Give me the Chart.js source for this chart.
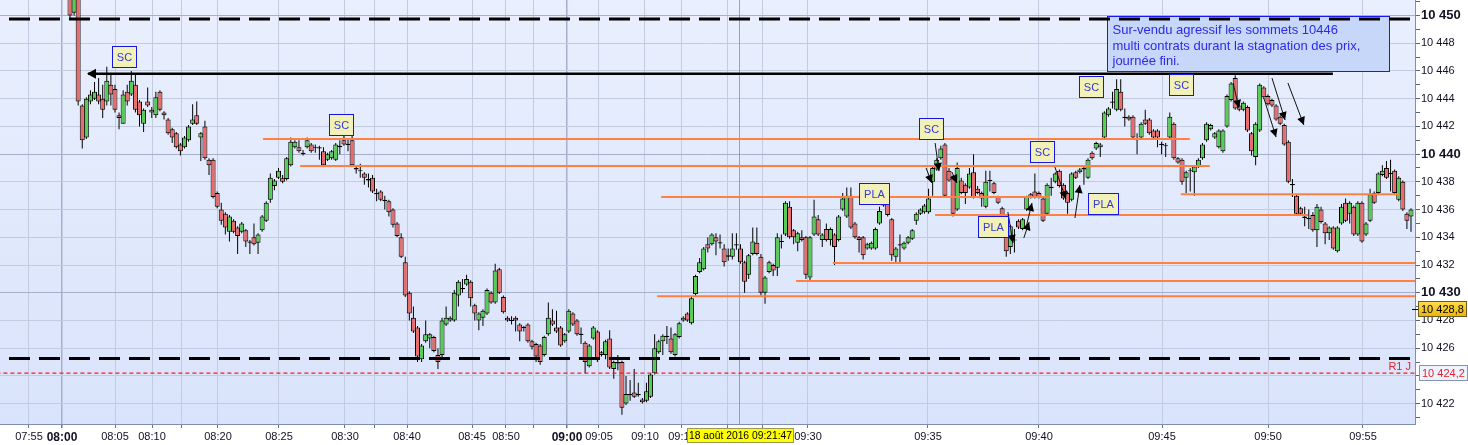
<!DOCTYPE html>
<html><head><meta charset="utf-8">
<style>html,body{margin:0;padding:0;background:#fff;}#wrap{width:1468px;height:445px;overflow:hidden;}</style>
<script src="https://cdn.jsdelivr.net/npm/chart.js@4"></script>
</head><body><div id="wrap"><canvas id="c" width="1468" height="445"></canvas></div>
<script>
// ---------- DATA ----------
const open = [
10452.5,10450.2,10451.8,10443.5,10441.2,10443.8,10444.0,10444.3,10444.0,10443.8,
10445.0,10444.7,10442.8,10442.2,10444.5,10444.3,10445.0,10443.8,10442.2,10443.8,
10443.2,10442.8,10444.5,10443.0,10442.5,10441.8,10441.5,10440.7,10440.5,10441.0,
10442.2,10442.8,10441.2,10442.0,10439.6,10439.6,10437.2,10436.0,10435.7,10434.4,
10435.2,10434.7,10434.4,10434.5,10433.6,10434.0,10433.6,10434.5,10435.2,
10436.7,10437.7,10438.3,10438.3,10438.2,10439.2,10440.5,10440.5,10440.1,10440.5,
10440.7,10440.5,10440.5,10440.2,10439.6,10439.7,10439.6,10440.5,10441.0,10440.7,
10441.0,10439.0,10438.8,10438.6,10438.2,10438.3,10437.2,10437.3,10436.7,10436.6,
10436.0,10435.0,10434.0,
10432.2,10430.0,10428.2,10427.5,10425.2,10426.5,10426.7,10426.8,10425.5,10425.5,
10427.7,10428.0,10428.0,10429.8,10430.3,10430.6,10430.8,10429.1,10428.0,10428.2,
10428.5,10430.0,10429.3,10431.7,10429.7,10428.2,10428.0,10428.2,10427.7,10427.5,
10427.7,10426.5,10426.3,10426.2,10425.5,10427.0,10428.0,10427.5,10427.5,10426.5,
10427.2,10428.5,10428.0,10427.0,10426.4,10424.7,10426.7,10427.2,10425.5,10425.5,
10426.7,10424.5,10425.0,10425.0,10422.0,10422.6,10422.8,10422.7,10422.3,10422.2,
10422.5,10424.2,10425.7,10426.5,10426.9,10426.7,10425.5,10426.8,10428.0,10428.5,
10427.8,10429.9,
10431.5,10431.7,10433.5,10433.5,10434.0,10433.6,10433.2,10432.6,10432.6,10433.4,
10433.2,10432.2,10431.3,10432.8,10433.6,10432.6,10430.0,10431.5,10432.0,10431.8,
10433.7,10434.2,10436.2,10434.5,10433.6,10434.0,10434.0,10431.1,10434.2,10435.3,
10433.8,10434.6,10433.8,10434.2,10433.8,10436.0,10435.5,10437.0,10435.0,10434.0,
10434.0,10433.2,10433.2,10433.2,10435.0,10436.5,10436.7,10435.3,10432.6,10433.4,
10433.2,10433.6,10433.9,10435.2,10435.7,10435.8,10435.8,
10438.0,10438.9,10439.7,10440.7,10438.8,10438.4,10436.0,10438.1,10437.8,10437.6,
10438.7,10437.5,10437.2,10436.2,10438.1,10437.9,10436.9,10436.1,10434.8,10433.3,
10433.8,10435.2,10434.6,10436.0,10437.1,10437.3,10437.2,10436.8,10435.7,10437.6,
10438.0,10438.8,10437.8,10437.2,10436.7,10438.7,10438.7,10438.9,10438.3,10440.1,
10440.4,10440.5,10441.2,10442.8,10443.8,10443.2,10444.5,10442.7,10442.7,10442.7,
10441.1,10441.2,10442.5,10442.5,10441.7,10441.7,10440.7,10440.6,10441.2,10442.2,
10439.7,10439.6,10438.3,10438.8,10438.7,10439.1,10439.7,10441.0,10441.8,10441.2,
10440.5,10440.2,10442.0,10443.9,10445.5,10443.5,10443.2,10443.4,10441.5,10439.8,
10441.7,10444.8,10444.2,10443.9,10443.5,10442.7,10442.1,10440.9,10437.8,10437.0,
10436.1,10435.5,
10435.4,10435.6,10434.5,10436.0,10435.0,10434.3,10434.7,10433.0,10435.0,10436.5,
10435.7,10436.2,10434.2,10436.5,10434.2,10435.2,10437.2,10437.2,10438.5,10439.0,
10438.6,10438.8,10436.7,10438.0,10435.7,10435.5
];
const high = [
10453.0,10452.5,10452.0,10443.6,10444.1,10444.6,10445.2,10445.5,10445.0,10446.3,
10445.8,10445.0,10443.0,10444.6,10445.0,10446.0,10445.8,10443.9,10443.3,10444.8,
10443.4,10444.5,10444.6,10443.1,10442.6,10441.9,10441.6,10440.8,10441.3,10442.1,
10443.6,10443.8,10441.6,10442.4,10439.7,10439.7,10437.3,10436.5,10435.8,10435.6,
10435.3,10434.8,10435.1,10434.6,10433.8,10435.0,10434.3,10435.6,10436.6,
10438.6,10438.2,10439.0,10438.5,10439.8,10441.2,10441.0,10441.0,10440.3,10441.2,
10440.8,10440.7,10440.6,10440.5,10440.1,10440.3,10440.8,10441.0,10441.3,10441.1,
10441.3,10439.1,10439.3,10438.7,10438.6,10438.5,10437.5,10437.4,10437.0,10436.7,
10436.1,10435.1,10434.3,
10432.6,10430.1,10429.0,10427.6,10426.3,10428.0,10427.1,10426.9,10426.0,10428.2,
10429.0,10428.3,10430.2,10430.9,10431.0,10431.3,10430.9,10429.2,10428.6,10428.8,
10430.3,10430.1,10432.1,10431.8,10429.8,10428.3,10428.3,10428.3,10427.8,10427.6,
10427.8,10426.6,10426.4,10426.3,10426.9,10429.3,10428.8,10428.7,10427.6,10427.1,
10428.8,10428.6,10428.1,10427.5,10426.5,10426.3,10427.6,10427.3,10425.8,10426.6,
10427.3,10425.1,10425.5,10425.1,10424.0,10423.7,10424.5,10423.5,10422.4,10423.5,
10424.2,10427.0,10426.6,10427.0,10427.6,10427.5,10427.1,10427.9,10428.3,10428.6,
10429.7,10431.3,
10432.5,10433.3,10434.0,10434.3,10434.3,10434.2,10433.5,10433.2,10434.3,10434.3,
10433.5,10432.3,10432.8,10434.7,10434.7,10432.8,10431.2,10432.3,10432.1,10434.3,
10434.2,10436.6,10436.6,10434.6,10434.4,10434.5,10434.1,10434.1,10436.7,10435.6,
10434.3,10435.0,10434.7,10434.3,10435.6,10437.2,10437.6,10437.6,10435.1,10434.1,
10434.1,10433.6,10433.7,10434.7,10436.2,10437.0,10437.1,10435.4,10433.3,10434.2,
10433.7,10434.1,10434.6,10435.8,10436.1,10436.4,10437.5,
10439.2,10439.7,10440.6,10440.8,10439.0,10438.5,10439.4,10438.3,10437.9,10439.0,
10440.0,10437.7,10437.3,10438.8,10438.8,10438.0,10437.0,10436.2,10434.9,10434.9,
10434.6,10435.3,10435.4,10437.0,10437.2,10438.6,10437.3,10436.9,10437.9,10438.3,
10438.7,10438.9,10437.9,10437.3,10438.7,10438.8,10439.0,10439.2,10439.7,10440.2,
10440.9,10440.8,10443.1,10443.4,10444.5,10445.4,10445.4,10443.3,10442.8,10442.8,
10441.5,10442.3,10443.2,10442.6,10441.8,10441.8,10440.9,10440.8,10443.0,10442.3,
10439.8,10439.7,10438.8,10439.0,10439.2,10439.7,10440.8,10442.3,10442.2,10441.6,
10441.8,10441.8,10444.3,10445.2,10445.7,10443.6,10443.8,10443.5,10441.6,10442.3,
10445.1,10444.9,10444.3,10444.0,10443.6,10442.8,10442.2,10441.0,10438.2,10437.1,
10436.2,10436.2,
10436.0,10435.8,10436.4,10436.2,10435.1,10434.8,10434.8,10434.8,10436.4,10436.8,
10436.6,10436.3,10436.6,10436.6,10435.1,10437.5,10437.3,10438.7,10439.2,10439.5,
10439.6,10438.9,10438.4,10438.1,10435.8,10436.1
];
const low = [
10449.8,10450.0,10443.5,10440.4,10441.1,10443.6,10443.9,10443.6,10442.6,10443.5,
10443.5,10443.0,10441.8,10442.2,10443.5,10444.2,10443.0,10442.0,10441.6,10443.4,
10442.6,10442.6,10443.1,10442.5,10441.4,10440.8,10440.4,10439.9,10440.4,10440.9,
10442.1,10442.1,10439.5,10439.6,10438.5,10436.8,10436.1,10434.9,10434.2,10433.7,
10434.3,10432.8,10434.3,10433.3,10432.8,10433.4,10432.8,10434.4,10435.1,
10436.5,10437.4,10438.2,10437.9,10438.1,10439.1,10440.4,10440.1,10439.9,10440.4,
10440.1,10440.1,10439.6,10439.1,10439.5,10439.6,10439.5,10440.0,10440.6,10440.2,
10439.1,10438.6,10438.3,10437.8,10437.6,10437.2,10436.6,10436.6,10436.0,10435.5,
10434.7,10434.0,10432.5,
10429.7,10428.0,10427.1,10425.0,10425.0,10426.4,10426.0,10425.7,10424.5,10425.2,
10427.6,10427.9,10427.9,10429.0,10430.0,10430.5,10429.0,10428.0,10427.3,10427.6,
10428.4,10429.2,10429.2,10429.9,10428.5,10427.9,10427.7,10427.2,10426.5,10427.2,
10426.4,10425.9,10425.0,10424.8,10425.4,10426.9,10427.6,10427.1,10426.1,10426.4,
10427.1,10427.6,10426.9,10426.3,10424.2,10424.6,10426.6,10425.0,10425.4,10425.2,
10424.5,10423.8,10424.4,10421.2,10421.9,10422.2,10422.4,10422.5,10422.0,10422.1,
10422.4,10424.1,10425.6,10425.5,10426.3,10425.6,10425.4,10426.7,10427.9,10427.9,
10427.7,10429.8,
10431.4,10431.6,10432.9,10433.4,10432.7,10433.2,10431.9,10432.3,10432.4,10433.1,
10432.1,10430.0,10431.0,10432.7,10432.7,10429.8,10429.2,10431.4,10431.2,10431.2,
10433.2,10434.1,10433.9,10433.5,10433.0,10433.7,10431.0,10430.9,10434.1,10434.1,
10433.3,10433.7,10433.4,10432.0,10433.7,10435.9,10435.4,10434.6,10433.9,10432.9,
10432.4,10433.1,10433.1,10433.1,10434.9,10436.2,10435.5,10432.3,10432.2,10432.2,
10433.1,10433.5,10433.8,10434.9,10435.6,10435.7,10435.7,
10437.0,10438.8,10439.6,10436.9,10438.0,10435.5,10435.9,10437.1,10436.4,10437.5,
10436.8,10437.1,10436.2,10436.1,10437.3,10437.1,10436.4,10435.5,10432.6,10432.8,
10432.9,10434.6,10434.5,10435.9,10436.8,10436.8,10436.8,10435.1,10435.6,10437.0,
10437.9,10437.6,10436.7,10435.7,10436.6,10438.2,10438.6,10437.8,10438.2,10439.6,
10440.3,10439.8,10441.1,10442.7,10443.3,10443.1,10443.1,10442.0,10442.4,10441.1,
10440.0,10441.1,10442.1,10441.4,10441.1,10440.5,10440.0,10439.8,10441.1,10439.6,
10439.3,10437.8,10437.2,10437.3,10437.0,10439.0,10439.6,10440.9,10441.7,10441.1,
10440.4,10440.1,10441.9,10443.8,10443.2,10443.1,10443.1,10441.6,10439.9,10439.2,
10441.6,10444.0,10443.5,10443.4,10442.4,10442.1,10440.6,10437.9,10436.9,10435.6,
10435.6,10434.8,
10434.6,10434.4,10433.3,10435.0,10433.5,10433.8,10433.1,10432.9,10434.9,10435.1,
10435.0,10434.1,10434.1,10433.6,10434.1,10435.1,10436.4,10437.1,10438.4,10438.2,
10437.3,10437.1,10436.6,10435.9,10434.6,10434.4
];
const close = [
10450.0,10452.0,10443.8,10441.0,10444.0,10444.3,10444.5,10443.8,10443.2,10445.3,
10444.3,10443.2,10442.6,10444.3,10443.8,10445.3,10443.2,10442.8,10443.2,10443.5,
10443.0,10444.1,10443.2,10442.8,10441.5,10441.2,10440.5,10440.2,10441.2,10442.0,
10442.5,10442.2,10441.5,10439.7,10439.2,10436.9,10436.2,10435.2,10434.7,10435.5,
10434.4,10434.1,10435.0,10433.7,10433.7,10433.5,10434.2,10435.5,10436.5,
10438.3,10438.1,10438.8,10438.0,10439.7,10440.9,10440.9,10440.2,10440.0,10441.0,
10440.2,10440.5,10440.4,10439.2,10440.0,10440.2,10440.7,10440.6,10440.7,10440.7,
10439.2,10438.9,10438.8,10438.3,10438.1,10437.3,10437.1,10436.7,10436.6,10435.8,
10434.9,10434.1,10432.6,
10429.8,10428.5,10427.2,10425.4,10426.2,10427.0,10427.0,10425.8,10425.0,10428.0,
10428.2,10428.2,10430.0,10430.8,10430.3,10431.0,10429.6,10428.5,10428.5,10428.7,
10430.2,10429.3,10431.6,10430.0,10428.6,10428.0,10428.0,10428.0,10427.2,10427.5,
10426.5,10426.1,10425.4,10425.0,10426.8,10428.2,10427.7,10427.2,10426.2,10427.0,
10428.7,10427.7,10427.0,10427.0,10425.0,10426.2,10427.5,10425.3,10425.7,10426.5,
10424.6,10425.0,10424.9,10421.7,10422.7,10422.7,10422.5,10422.6,10422.1,10422.9,
10424.1,10426.0,10426.5,10426.9,10426.8,10425.7,10427.0,10427.8,10428.2,10428.0,
10429.6,10431.2,
10432.2,10433.2,10433.2,10434.2,10433.7,10433.6,10432.2,10432.7,10433.2,10433.5,
10432.2,10430.8,10432.7,10433.7,10432.8,10430.0,10431.1,10432.2,10431.6,10434.0,
10433.7,10436.5,10434.0,10434.0,10434.3,10433.8,10431.3,10434.0,10435.5,10434.2,
10434.2,10433.8,10434.6,10433.3,10435.5,10436.8,10437.0,10434.7,10434.0,10433.8,
10432.7,10433.5,10433.6,10434.6,10435.9,10436.3,10435.6,10432.7,10433.2,10433.5,
10433.6,10434.0,10434.5,10435.7,10436.0,10436.3,10436.8,
10439.0,10439.6,10440.4,10437.0,10438.1,10435.7,10439.0,10437.2,10437.2,10438.6,
10436.9,10437.2,10436.8,10438.0,10438.1,10437.2,10436.5,10435.6,10433.0,10434.8,
10433.8,10434.7,10435.3,10436.9,10436.9,10436.9,10436.9,10435.2,10437.8,10437.6,
10438.6,10437.7,10436.8,10436.5,10438.6,10438.3,10438.9,10439.0,10439.6,10439.7,
10440.8,10440.7,10443.0,10443.3,10443.7,10444.7,10443.2,10442.6,10442.5,10441.2,
10441.0,10442.2,10442.2,10441.5,10441.2,10441.2,10440.7,10440.6,10442.7,10439.7,
10439.4,10438.0,10438.7,10438.8,10439.1,10439.6,10440.7,10442.2,10442.1,10441.5,
10441.7,10441.7,10444.2,10445.1,10443.3,10443.2,10443.7,10441.7,10440.2,10442.2,
10445.0,10444.1,10443.6,10443.5,10442.5,10442.2,10440.7,10438.0,10437.8,10435.7,
10435.7,10435.4,
10435.3,10434.5,10436.2,10435.1,10434.3,10434.7,10433.2,10434.7,10436.2,10435.2,
10436.5,10434.2,10436.5,10433.7,10435.0,10437.1,10436.5,10438.6,10438.8,10438.3,
10438.6,10437.2,10438.3,10436.0,10435.2,10436.0
];

// time axis: bar index where each 5-minute boundary falls, and its label
const timeTicks  = [-10.03,-1.96,11.01,20.06,27.39,36.2,51.12,67.26,74.36,82.43,98.33,106.64,113.49,121.56,129.39,140.64,149.69,160.7,169.5,180.51,209.86,237.01,267.1,293.03,316.26];
const timeLabels = ['07:55','08:00','08:05','08:10','','08:20','08:25','08:30','','08:40','08:45','08:50','','09:00','09:05','09:10','09:15','','','09:30','09:35','09:40','09:45','09:50','09:55'];
const boldTimes  = ['08:00','09:00'];

// drawn price levels
const orangeLevels = [10441.1,10439.15,10436.9,10435.6,10437.1,10432.15,10430.85,10429.75];
const orangeFrom   = [47.2,56.3,144.6,211.6,271.7,186.6,177.6,143.6];
const orangeTo     = [273.9,278.8,239.7,302.8,325.1,329.5,329.5,329.5];
const dashedLevels = [10449.75,10425.25];
const r1Level = 10424.2;
const resistLevel = 10445.8, resistFrom = 4.4, resistTo = 308.9;
const lastPrice = 10428.8;
const crossIdx = 163.6, crossLabel = '18 août 2016 09:21:47';

const tags = [
  {t:'SC', i:13.2, p:10447.04}, {t:'SC', i:66.3, p:10442.17}, {t:'SC', i:210.6, p:10441.88},
  {t:'PLA', i:196.7, p:10437.16}, {t:'PLA', i:225.8, p:10434.78}, {t:'SC', i:237.7, p:10440.19},
  {t:'PLA', i:252.7, p:10436.44}, {t:'SC', i:249.7, p:10444.88}, {t:'SC', i:271.7, p:10444.99}
];
const arrows = [
  [211.6,10440.8,212.55,10438.78],[209.4,10439.0,210.8,10437.92],[215.7,10438.71,216.95,10437.92],
  [229.4,10435.82,230.65,10433.59],[233.3,10433.95,234.6,10435.1],[233.8,10434.67,235.3,10436.47],
  [240.9,10439.07,243.6,10436.76],[245.8,10435.39,247.0,10437.77],
  [284.5,10445.13,285.9,10443.33],[292.0,10444.05,295.0,10441.23],[294.0,10445.49,297.2,10442.46],[297.9,10445.13,301.8,10442.1]
];
const noteAnchor = {i:253.6, p:10449.96};
const noteLines = ['Sur-vendu agressif les sommets 10446','multi contrats durant la stagnation des prix,','journée fini.'];

// ---------- CHART ----------
const FONT = "'Liberation Sans', Arial, sans-serif";
Chart.defaults.font.family = FONT;
const GREEN = '#55CD55', RED = '#E86C6C';
const idx = close.map((_, i) => i);
const bodies = idx.map(i => {
  let a = open[i], b = close[i];
  if (Math.abs(a - b) < 0.06) { const m = (a + b) / 2; a = m - 0.04; b = m + 0.04; }
  return {x: i, y: [a, b]};
});
const bodyColors = idx.map(i => close[i] >= open[i] ? GREEN : RED);
const wicks = idx.map(i => ({x: i, y: [low[i], high[i]]}));
const fmt = v => String(Math.round(v)).replace(/\B(?=(\d{3})+(?!\d))/g, ' ');

const lineSets = [];
orangeLevels.forEach((lv, k) => lineSets.push({type:'line', data:[{x:orangeFrom[k], y:lv},{x:orangeTo[k], y:lv}],
  borderColor:'#FF8040', borderWidth:2, pointRadius:0, order:0, clip:0}));
dashedLevels.forEach(lv => lineSets.push({type:'line', data:[{x:-14.92, y:lv},{x:329.5, y:lv}],
  borderColor:'#000000', borderWidth:3, borderDash:[21,9], pointRadius:0, order:0, clip:0}));
lineSets.push({type:'line', data:[{x:-18, y:r1Level},{x:330, y:r1Level}],
  borderColor:'#FF1A1A', borderWidth:1.3, borderDash:[4,3], pointRadius:0, order:0, clip:0});
lineSets.push({type:'line', data:[{x:resistFrom, y:resistLevel},{x:resistTo, y:resistLevel}],
  borderColor:'#000000', borderWidth:2.5, pointRadius:0, order:0, clip:0});

function head(ctx, x1, y1, x2, y2, len, w) {
  const a = Math.atan2(y2 - y1, x2 - x1), c = Math.cos(a), s = Math.sin(a);
  ctx.beginPath();
  ctx.moveTo(x2, y2);
  ctx.lineTo(x2 - len * c + w * s, y2 - len * s - w * c);
  ctx.lineTo(x2 - len * c - w * s, y2 - len * s + w * c);
  ctx.closePath(); ctx.fill();
}

const deco = {
  id: 'deco',
  beforeDraw(chart) {
    const {ctx, chartArea: a} = chart;
    ctx.save();
    ctx.fillStyle = '#ffffff'; ctx.fillRect(0, 0, chart.width, chart.height);
    const g = ctx.createLinearGradient(0, a.top, 0, a.bottom);
    g.addColorStop(0, '#E9EFFD'); g.addColorStop(1, '#D9E3FB');
    ctx.fillStyle = g; ctx.fillRect(a.left, a.top, a.right - a.left, a.bottom - a.top);
    ctx.restore();
  },
  beforeDatasetsDraw(chart) {
    const {ctx, chartArea: a, scales: {x, y}} = chart;
    ctx.save();
    ctx.beginPath(); ctx.rect(a.left, a.top, a.right - a.left, a.bottom - a.top); ctx.clip();
    const cx = Math.round(x.getPixelForValue(crossIdx)) + 0.5;
    ctx.strokeStyle = 'rgba(235,95,95,0.75)'; ctx.lineWidth = 1;
    ctx.beginPath(); ctx.moveTo(cx, a.top); ctx.lineTo(cx, a.bottom); ctx.stroke();
    const nx = Math.round(x.getPixelForValue(noteAnchor.i)) + 0.5, ny = Math.round(y.getPixelForValue(noteAnchor.p)) + 0.5;
    ctx.fillStyle = '#C6D7F9'; ctx.fillRect(nx, ny, 282, 55);
    ctx.strokeStyle = '#1A1AF0'; ctx.lineWidth = 1; ctx.strokeRect(nx, ny, 282, 55);
    ctx.fillStyle = '#2B2BE6'; ctx.font = '13px ' + FONT; ctx.textBaseline = 'middle'; ctx.textAlign = 'left';
    noteLines.forEach((t, k) => ctx.fillText(t, nx + 5, ny + 14 + k * 15.5));
    ctx.restore();
  },
  afterDatasetsDraw(chart) {
    const {ctx, chartArea: a, scales: {x, y}} = chart;
    ctx.save();
    ctx.beginPath(); ctx.rect(a.left, a.top, a.right - a.left, a.bottom - a.top); ctx.clip();
    ctx.fillStyle = '#000';
    const rx = x.getPixelForValue(resistFrom), ry = y.getPixelForValue(resistLevel);
    head(ctx, rx + 10, ry, rx - 1, ry, 9, 5);
    ctx.strokeStyle = '#111'; ctx.lineWidth = 1;
    arrows.forEach(([i1, p1, i2, p2]) => {
      const x1 = x.getPixelForValue(i1), y1 = y.getPixelForValue(p1), x2 = x.getPixelForValue(i2), y2 = y.getPixelForValue(p2);
      ctx.beginPath(); ctx.moveTo(x1, y1); ctx.lineTo(x2, y2); ctx.stroke();
      head(ctx, x1, y1, x2, y2, 8, 4);
    });
    ctx.font = '11px ' + FONT; ctx.textAlign = 'center'; ctx.textBaseline = 'middle';
    tags.forEach(tg => {
      const w = tg.t === 'SC' ? 24 : 30, h = 21;
      const cx = x.getPixelForValue(tg.i), cy = y.getPixelForValue(tg.p);
      const l = Math.round(cx - w / 2) + 0.5, t = Math.round(cy - h / 2) + 0.5;
      ctx.fillStyle = '#F2F2B8'; ctx.fillRect(l, t, w, h);
      ctx.strokeStyle = '#1515E6'; ctx.lineWidth = 1; ctx.strokeRect(l, t, w, h);
      ctx.fillStyle = '#3636D8'; ctx.fillText(tg.t, l + w / 2, t + h / 2 + 0.5);
    });
    ctx.fillStyle = '#E8202A'; ctx.font = '11px ' + FONT; ctx.textAlign = 'right'; ctx.textBaseline = 'alphabetic';
    ctx.fillText('R1 J', a.right - 4, y.getPixelForValue(r1Level) - 3);
    ctx.restore();
  },
  afterDraw(chart) {
    const {ctx, chartArea: a, scales: {x, y}} = chart;
    ctx.save();
    ctx.textBaseline = 'middle'; ctx.textAlign = 'left'; ctx.font = '11px ' + FONT;
    let yy = Math.round(y.getPixelForValue(lastPrice));
    ctx.strokeStyle = '#000'; ctx.lineWidth = 1;
    ctx.beginPath(); ctx.moveTo(a.right - 3, yy + 0.5); ctx.lineTo(a.right + 3, yy + 0.5); ctx.stroke();
    let g = ctx.createLinearGradient(0, yy - 8, 0, yy + 8);
    g.addColorStop(0, '#FFDD55'); g.addColorStop(1, '#EDB400');
    ctx.fillStyle = g; ctx.fillRect(a.right + 3.5, yy - 7.5, 48, 15);
    ctx.strokeStyle = '#6B5A1E'; ctx.strokeRect(a.right + 3.5, yy - 7.5, 48, 15);
    ctx.fillStyle = '#000'; ctx.fillText('10 428,8', a.right + 6, yy + 0.5);
    yy = Math.round(y.getPixelForValue(r1Level));
    ctx.fillStyle = '#EEF3FD'; ctx.fillRect(a.right + 4.5, yy - 7.5, 48, 15);
    ctx.strokeStyle = '#8593AE'; ctx.strokeRect(a.right + 4.5, yy - 7.5, 48, 15);
    ctx.fillStyle = '#E8202A'; ctx.fillText('10 424,2', a.right + 7, yy + 0.5);
    const cx = x.getPixelForValue(crossIdx);
    const l = Math.round(cx - 52) + 0.5, t = a.bottom + 4.5;
    ctx.fillStyle = '#FFFF00'; ctx.fillRect(l, t, 106, 14);
    ctx.strokeStyle = '#9A9A50'; ctx.strokeRect(l, t, 106, 14);
    ctx.fillStyle = '#000'; ctx.font = '11px ' + FONT; ctx.textAlign = 'center';
    ctx.fillText(crossLabel, l + 53, t + 7.5, 103);
    ctx.restore();
  }
};

new Chart(document.getElementById('c'), {
  type: 'bar',
  data: {
    datasets: [
      ...lineSets,
      {type:'bar', data:bodies, backgroundColor:bodyColors, borderColor:'#000', borderWidth:1, borderSkipped:false,
       barThickness:5, grouped:false, inflateAmount:0, order:1, clip:0},
      {type:'bar', data:wicks, backgroundColor:'#000', borderWidth:0, barThickness:1, grouped:false, inflateAmount:0, order:2, clip:0}
    ]
  },
  options: {
    responsive:false, animation:false, devicePixelRatio:1,
    layout:{padding:0, autoPadding:false},
    plugins:{legend:{display:false}, tooltip:{enabled:false}},
    scales:{
      x:{type:'linear', position:'bottom', min:-17.12, max:328.98, offset:false,
        afterBuildTicks: s => { s.ticks = timeTicks.map(v => ({value:v})); },
        afterFit: s => { s.height = 21; s.paddingLeft = 0; s.paddingRight = 0; },
        grid:{offset:false, tickLength:4, tickColor:'#6A7590',
          color: c => (boldTimes.includes(timeLabels[c.index]) ? '#A6B0CC' : '#C3CBE1'),
          lineWidth: c => (boldTimes.includes(timeLabels[c.index]) ? 1.5 : 1)},
        border:{color:'#7F8EB0', width:1},
        ticks:{autoSkip:false, maxRotation:0, minRotation:0, padding:2, color:'#111122',
          callback:(v, i) => timeLabels[i],
          font: c => (boldTimes.includes(timeLabels[c.index]) ? {size:12, weight:'bold', family:FONT} : {size:11, family:FONT})}
      },
      y:{type:'linear', position:'right', min:10420.53, max:10451.12,
        afterBuildTicks: s => { const t = []; for (let v = 10421; v <= 10451; v++) t.push({value:v}); s.ticks = t; },
        afterFit: s => { s.width = 53; s.paddingTop = 0; s.paddingBottom = 0; },
        grid:{tickLength:5, tickColor:'#5A6478',
          color: c => { const v = c.tick.value; return v % 2 ? 'rgba(0,0,0,0)' : (v % 10 === 0 ? '#A6B0CC' : '#C3CBE1'); }},
        border:{color:'#7F8EB0', width:1},
        ticks:{autoSkip:false, padding:1, color:'#111122',
          callback: v => (v % 2 ? '' : fmt(v)),
          font: c => (c.tick && c.tick.value % 10 === 0 ? {size:13, weight:'bold', family:FONT} : {size:11, family:FONT})}
      }
    }
  },
  plugins:[deco]
});
</script></body></html>
